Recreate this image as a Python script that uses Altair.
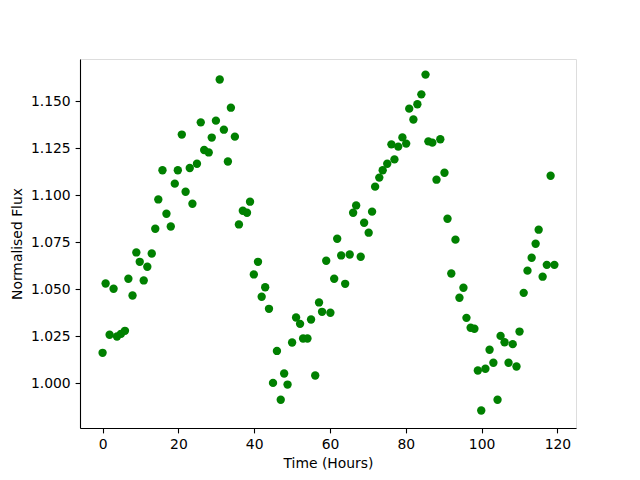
import altair as alt
import pandas as pd

time_hours = [
    0.0, 0.8, 1.85, 2.9, 3.8, 4.86, 5.9, 6.8, 7.9, 8.9, 9.8, 10.85, 11.8, 12.97,
    13.9, 14.7, 15.8, 16.85, 17.99, 19.05, 19.85, 20.9, 21.9, 23.0, 23.7, 24.9,
    25.9, 26.8, 28.0, 28.8, 29.9, 30.9, 32.0, 33.06, 33.85, 34.9, 35.97, 37.0,
    38.1, 38.9, 39.9, 41.0, 41.97, 42.9, 43.9, 44.96, 46.0, 47.0, 47.9, 48.8,
    50.0, 51.05, 52.1, 52.9, 54.05, 55.0, 56.1, 57.1, 57.9, 59.0, 60.1, 61.1,
    61.9, 62.95, 64.0, 65.2, 66.1, 66.9, 68.1, 69.0, 70.2, 71.1, 71.9, 73.0,
    73.9, 75.1, 76.2, 77.0, 78.0, 79.1, 80.1, 80.9, 82.0, 83.05, 84.1, 85.2,
    85.95, 87.0, 88.1, 89.1, 90.2, 91.0, 92.0, 93.1, 94.15, 95.2, 96.0, 97.1,
    98.1, 99.0, 99.9, 101.0, 102.1, 103.1, 104.2, 105.0, 106.05, 107.1, 108.2,
    109.2, 110.0, 111.1, 112.1, 113.2, 114.25, 115.05, 116.1, 117.2, 118.2, 119.2,
]

normalised_flux = [
    1.0162, 1.0531, 1.0258, 1.0503, 1.0249, 1.0263, 1.0279, 1.0556, 1.0467, 1.0696,
    1.0646, 1.0547, 1.0620, 1.0690, 1.0822, 1.0978, 1.1133, 1.0902, 1.0834, 1.1062,
    1.1133, 1.1323, 1.1019, 1.1145, 1.0955, 1.1168, 1.1388, 1.1241, 1.1228, 1.1307,
    1.1397, 1.1616, 1.1349, 1.1180, 1.1466, 1.1312, 1.0845, 1.0918, 1.0907, 1.0966,
    1.0579, 1.0646, 1.0460, 1.0511, 1.0396, 1.0002, 1.0172, 0.9912, 1.0052, 0.9993,
    1.0217, 1.0350, 1.0316, 1.0238, 1.0238, 1.0339, 1.0041, 1.0430, 1.0380, 1.0652,
    1.0375, 1.0556, 1.0769, 1.0680, 1.0529, 1.0685, 1.0907, 1.0946, 1.0673, 1.0854,
    1.0801, 1.0913, 1.1046, 1.1094, 1.1133, 1.1168, 1.1271, 1.1191, 1.1259, 1.1308,
    1.1275, 1.1461, 1.1403, 1.1484, 1.1537, 1.1642, 1.1287, 1.1280, 1.1083, 1.1298,
    1.1120, 1.0875, 1.0584, 1.0764, 1.0455, 1.0508, 1.0348, 1.0295, 1.0290, 1.0068,
    0.9855, 1.0077, 1.0178, 1.0109, 0.9912, 1.0252, 1.0218, 1.0109, 1.0208, 1.0089,
    1.0275, 1.0481, 1.0599, 1.0668, 1.0742, 1.0817, 1.0567, 1.0630, 1.1104, 1.0630,
]

x_ticks = [0, 20, 40, 60, 80, 100, 120]
y_ticks = [1.000, 1.025, 1.050, 1.075, 1.100, 1.125, 1.150]

df = pd.DataFrame({"t": time_hours, "f": normalised_flux})

axis_common = dict(
    grid=False,
    domainColor="black",
    domainWidth=1.1,
    tickColor="black",
    tickWidth=1.1,
    tickSize=4.9,
    labelPadding=4.9,
    labelFont="DejaVu Sans",
    labelFontSize=13.9,
    labelColor="black",
    titleFont="DejaVu Sans",
    titleFontSize=13.9,
    titleFontWeight="normal",
    titleColor="black",
)

chart = (
    alt.Chart(df)
    .mark_circle(color="green", opacity=1, size=70)
    .encode(
        x=alt.X(
            "t:Q",
            title="Time (Hours)",
            scale=alt.Scale(domain=[-5.96, 124.9], nice=False, zero=False),
            axis=alt.Axis(values=x_ticks, format="d", titlePadding=5, **axis_common),
        ),
        y=alt.Y(
            "f:Q",
            title="Normalised Flux",
            scale=alt.Scale(domain=[0.9762, 1.1725], nice=False, zero=False),
            axis=alt.Axis(values=y_ticks, format=".3f", titlePadding=6, **axis_common),
        ),
    )
    .properties(
        width=496,
        height=369,
        autosize=alt.AutoSizeParams(type="none"),
        padding={"left": 72, "top": 51, "right": 56, "bottom": 44},
    )
    .configure_view(stroke="black", strokeWidth=1.1)
    .configure(background="white")
)

chart.save("out.html", embed_options={"renderer": "svg", "actions": False})
